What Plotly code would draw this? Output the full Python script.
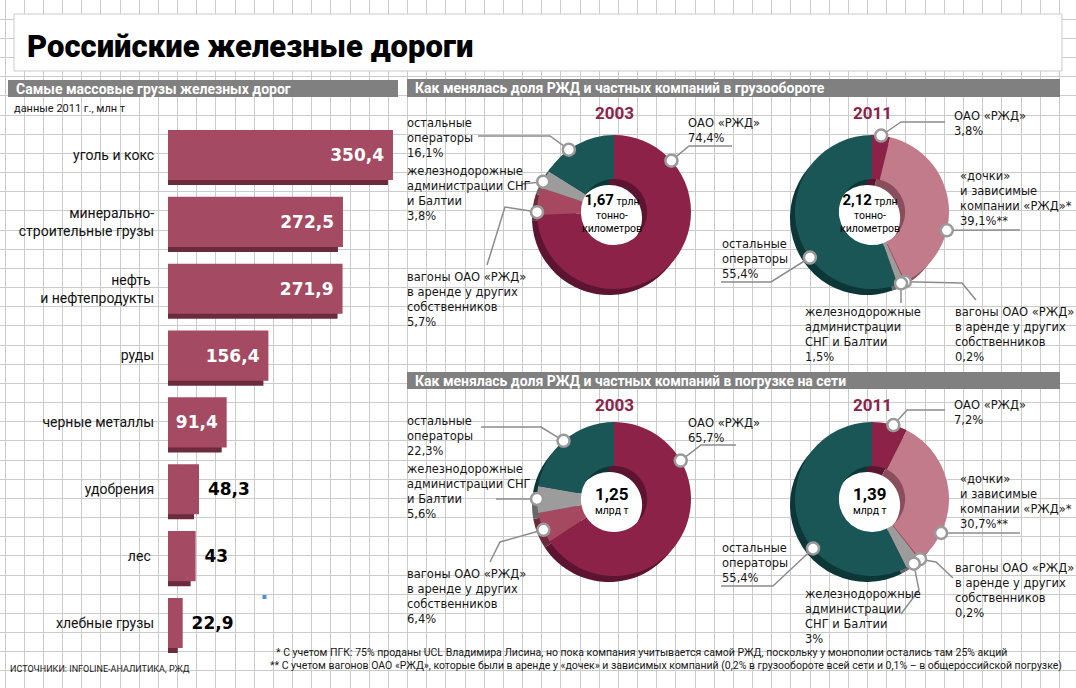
#! /usr/bin/env python3

import math
import plotly.graph_objects as go

W, H = 1076, 688

# самые массовые грузы, млн т (2011)
cargo = ["уголь и кокс", "минерально-<br>строительные грузы", "нефть\u00a0<br>и нефтепродукты",
         "руды", "черные металлы", "удобрения", "лес\u00a0", "хлебные грузы"]
cargo_mt = [350.4, 272.5, 271.9, 156.4, 91.4, 48.3, 43, 22.9]
cargo_inside = [True, True, True, True, True, False, False, False]

# доли в грузообороте и погрузке, %
freight_2003_keys = ["rzd", "wagons", "cis", "other"]
freight_2003 = [74.4, 5.7, 3.8, 16.1]
freight_2011_keys = ["rzd", "daughters", "wagons", "cis", "other"]
freight_2011 = [3.8, 39.1, 0.2, 1.5, 55.4]
loading_2003_keys = ["rzd", "wagons", "cis", "other"]
loading_2003 = [65.7, 6.4, 5.6, 22.3]
loading_2011_keys = ["rzd", "daughters", "wagons", "cis", "other"]
loading_2011 = [7.2, 30.7, 0.2, 3.0, 55.4]

names = {"rzd": "ОАО «РЖД»", "daughters": "«дочки» и зависимые компании «РЖД»",
         "wagons": "вагоны ОАО «РЖД» в аренде у других собственников",
         "cis": "железнодорожные администрации СНГ и Балтии", "other": "остальные операторы"}
colors = {"rzd": "#8c2248", "daughters": "#c17b8b", "wagons": "#a6485f", "cis": "#9c9c9c", "other": "#1b5656"}
shade = {"rzd": "#5c1430", "daughters": "#8a4d5c", "wagons": "#6c2a3b", "cis": "#686868", "other": "#0d3737"}

grid_color = "#cbcbcb"
bar_face = "#a44a62"
bar_side = "#6c2a3d"
lead_color = "#8c8c8c"
TXT = "Roboto, Arial, sans-serif"
LBL = "DejaVu Sans, Roboto, sans-serif"


def fmt(v):
    return f"{v:g}".replace(".", ",")


fig = go.Figure()

# пустой след, чтобы держать пиксельные оси сетки
fig.add_trace(go.Scatter(x=[None], y=[None], xaxis="x", yaxis="y", showlegend=False, hoverinfo="skip"))

# --- столбики ---
k = 0.642          # px на 1 млн т
bx0 = 168
xmax = 380
pitch = 66.86
btop = 155 - pitch / 2
pos = list(range(len(cargo)))
bw = 0.75
sx = 5 / k
sy = 5 / pitch

fig.add_trace(go.Bar(
    y=pos, x=cargo_mt, base=-sx, orientation="h", width=bw, offset=-bw / 2 + sy,
    marker=dict(color=bar_side, line=dict(width=0)), xaxis="x2", yaxis="y2",
    cliponaxis=False, hoverinfo="skip", showlegend=False,
))
fig.add_trace(go.Bar(
    y=pos, x=cargo_mt, orientation="h", width=bw, offset=-bw / 2,
    marker=dict(color=bar_face, line=dict(width=0)), xaxis="x2", yaxis="y2",
    text=[fmt(v) + "\u00a0" if ins else "\u00a0" + fmt(v) for v, ins in zip(cargo_mt, cargo_inside)],
    textposition=["inside" if ins else "outside" for ins in cargo_inside],
    insidetextanchor="end", constraintext="none", textangle=0,
    textfont=dict(family="DejaVu Sans", size=17, weight="bold"),
    insidetextfont=dict(color="white"), outsidetextfont=dict(color="black"),
    cliponaxis=False, showlegend=False, hovertemplate="%{x} млн т<extra></extra>",
))

# --- кольцевые диаграммы ---
R = 77
HOLE = 0.43
donuts = [
    dict(year="2003", cx=614, cy=212, ty=113, keys=freight_2003_keys, vals=freight_2003,
         center="<span style='font-size:15px'><b>1,67</b></span> трлн<br>тонно-<br>километров",
         labels=[
             dict(key="rzd", lines=["ОАО «РЖД»"], tx=686, ty=121, frac=0.18, path=[(689, 146), (732, 146)]),
             dict(key="wagons", lines=["вагоны ОАО «РЖД»", "в аренде у других", "собственников"],
                  tx=405, ty=275, frac=0.1, path=[(505, 207), (487, 265)]),
             dict(key="cis", lines=["железнодорожные", "администрации СНГ", "и Балтии"],
                  tx=405, ty=169, frac=0.35, path=[(522, 184)]),
             dict(key="other", lines=["остальные", "операторы"], tx=405, ty=121, frac=0.38,
                  path=[(550, 136), (478, 136)]),
         ]),
    dict(year="2011", cx=872, cy=212, ty=113, keys=freight_2011_keys, vals=freight_2011,
         center="<span style='font-size:15px'><b>2,12</b></span> трлн<br>тонно-<br>километров",
         labels=[
             dict(key="rzd", lines=["ОАО «РЖД»"], tx=952, ty=114, frac=0.5, path=[(901, 122), (945, 122)]),
             dict(key="daughters", lines=["«дочки»", "и зависимые", "компании «РЖД»*"], suffix="**",
                  tx=958, ty=174, frac=0.64, path=[(1020, 230)]),
             dict(key="wagons", lines=["вагоны ОАО «РЖД»", "в аренде у других", "собственников"],
                  tx=953, ty=310, frac=0.5, path=[(962, 283), (976, 300)]),
             dict(key="cis", lines=["железнодорожные", "администрации", "СНГ и Балтии"],
                  tx=803, ty=310, frac=0.5, path=[(901, 303)]),
             dict(key="other", lines=["остальные", "операторы"], tx=720, ty=242, frac=0.367,
                  path=[(771, 282), (721, 282)]),
         ]),
    dict(year="2003", cx=614, cy=499, ty=405, keys=loading_2003_keys, vals=loading_2003,
         center="<span style='font-size:17px'><b>1,25</b></span><br>млрд т",
         labels=[
             dict(key="rzd", lines=["ОАО «РЖД»"], tx=686, ty=421, frac=0.254, path=[(701, 445), (736, 445)]),
             dict(key="wagons", lines=["вагоны ОАО «РЖД»", "в аренде у других", "собственников"],
                  tx=405, ty=572, frac=0.43, path=[(500, 542), (490, 562)]),
             dict(key="cis", lines=["железнодорожные", "администрации СНГ", "и Балтии"],
                  tx=405, ty=467, frac=0.52, path=[(496, 499)]),
             dict(key="other", lines=["остальные", "операторы"], tx=405, ty=419, frac=0.49,
                  path=[(541, 427), (481, 427)]),
         ]),
    dict(year="2011", cx=872, cy=499, ty=405, keys=loading_2011_keys, vals=loading_2011,
         center="<span style='font-size:17px'><b>1,39</b></span><br>млрд т",
         labels=[
             dict(key="rzd", lines=["ОАО «РЖД»"], tx=952, ty=403, frac=0.6, path=[(907, 410), (945, 410)]),
             dict(key="daughters", lines=["«дочки»", "и зависимые", "компании «РЖД»*"], suffix="**",
                  tx=958, ty=477, frac=0.78, path=[(1020, 533)]),
             dict(key="wagons", lines=["вагоны ОАО «РЖД»", "в аренде у других", "собственников"],
                  tx=953, ty=566, frac=0.0, path=[(936, 562), (953, 578)]),
             dict(key="cis", lines=["железнодорожные", "администрации", "СНГ и Балтии"],
                  tx=803, ty=592, frac=0.45, path=[(919, 590), (901, 614)]),
             dict(key="other", lines=["остальные", "операторы"], tx=720, ty=546, frac=0.371,
                  path=[(773, 586), (721, 586)]),
         ]),
]

shapes = []
annotations = []
lead_shapes = []
dot_shapes = []


def text(x, y, s, size=12, color="#161616", anchor="left", family=TXT, weight="normal", yanchor="middle"):
    annotations.append(dict(x=x, y=y, xref="x", yref="y", text=s, showarrow=False, xanchor=anchor,
                            yanchor=yanchor, align=anchor if anchor != "middle" else "center",
                            font=dict(family=family, size=size, color=color, weight=weight)))


for d in donuts:
    keys, vals = d["keys"], d["vals"]
    for dx, dy, cmap in [(-5, 6, shade), (0, 0, colors)]:
        cx, cy = d["cx"] + dx, d["cy"] + dy
        fig.add_trace(go.Pie(
            values=vals, labels=[names[key] for key in keys],
            marker=dict(colors=[cmap[key] for key in keys], line=dict(width=0)),
            hole=HOLE, sort=False, direction="clockwise", rotation=0, textinfo="none",
            hoverinfo="label+percent" if dx == 0 else "skip", showlegend=False,
            domain=dict(x=[(cx - R) / W, (cx + R) / W], y=[1 - (cy + R) / H, 1 - (cy - R) / H]),
        ))
    cx, cy = d["cx"], d["cy"]
    r0 = R * HOLE
    shapes.append(dict(type="circle", xref="x", yref="y", x0=cx - r0, x1=cx + r0, y0=cy - r0, y1=cy + r0,
                       fillcolor="white", line=dict(width=0), layer="between"))
    text(cx, d["ty"], "<b>" + d["year"] + "</b>", size=17, color=colors["rzd"], anchor="center")
    text(cx - 2, cy + 1, d["center"], size=10.5, color="black", anchor="center")

    total = sum(vals)
    for lab in d["labels"]:
        i = keys.index(lab["key"])
        ang = math.radians(360 * (sum(vals[:i]) + lab["frac"] * vals[i]) / total)
        mx, my = cx + R * math.sin(ang), cy - R * math.cos(ang)
        pts = [(mx, my)] + lab["path"]
        lead_shapes.append(dict(type="path", xref="x", yref="y", layer="above",
                                path="M " + " L ".join(f"{px:.1f},{py:.1f}" for px, py in pts),
                                line=dict(color=lead_color, width=1.5)))
        dot_shapes.append(dict(type="circle", xref="x", yref="y", layer="above", x0=mx - 6, x1=mx + 6,
                               y0=my - 6, y1=my + 6, fillcolor="white", line=dict(color="#9a9a9a", width=2.5)))
        lines = lab["lines"] + [fmt(vals[i]) + "%" + lab.get("suffix", "")]
        text(lab["tx"], lab["ty"] - 7.5, "<br>".join(lines), size=11.5, family=LBL, yanchor="top")

# --- оформление: заголовок, плашки разделов ---
shapes.insert(0, dict(type="rect", xref="x", yref="y", x0=14, x1=1062, y0=14, y1=71, fillcolor="white",
                      line=dict(color=grid_color, width=1), layer="between"))
for x0, x1, y0, y1 in [(8, 398, 80, 97), (407, 1060, 79, 97), (407, 1060, 372, 389)]:
    shapes.append(dict(type="rect", xref="x", yref="y", x0=x0, x1=x1, y0=y0, y1=y1, fillcolor="#808080",
                       line=dict(width=0), layer="between"))
shapes.append(dict(type="rect", xref="x", yref="y", x0=262.5, x1=266.5, y0=595, y1=599,
                   fillcolor="#4d8fe0", line=dict(width=0), layer="above"))

text(25, 46, "Российские железные дороги", size=31, color="black", weight=900)
text(14, 89, "Самые массовые грузы железных дорог", size=14, color="white", weight="bold")
text(413, 88, "Как менялась доля РЖД и частных компаний в грузообороте", size=14, color="white", weight="bold")
text(413, 381, "Как менялась доля РЖД и частных компаний в погрузке на сети", size=14, color="white", weight="bold")
text(12, 108, "данные 2011 г., млн т", size=11)
text(274, 652, "* С учетом ПГК: 75% проданы UCL Владимира Лисина, но пока компания учитывается самой РЖД, "
               "поскольку у монополии остались там 25% акций", size=10.5)
text(268, 665, "** С учетом вагонов ОАО «РЖД», которые были в аренде у «дочек» и зависимых компаний "
               "(0,2% в грузообороте всей сети и 0,1% – в общероссийской погрузке)", size=10.5)
text(8, 669, "ИСТОЧНИКИ: INFOLINE-АНАЛИТИКА, РЖД", size=9)

fig.update_layout(
    template="none",
    width=W, height=H,
    margin=dict(l=0, r=0, t=0, b=0),
    paper_bgcolor="white",
    plot_bgcolor="rgba(0,0,0,0)",
    barmode="overlay",
    showlegend=False,
    xaxis=dict(domain=[0, 1], range=[0, W], showgrid=True, gridcolor=grid_color, gridwidth=1,
               tick0=5, dtick=19.17, showticklabels=False, zeroline=False, showline=False, ticks="",
               fixedrange=True),
    yaxis=dict(domain=[0, 1], range=[H, 0], showgrid=True, gridcolor=grid_color, gridwidth=1,
               tick0=0, dtick=19.17, showticklabels=False, zeroline=False, showline=False, ticks="",
               fixedrange=True),
    xaxis2=dict(domain=[bx0 / W, (bx0 + k * xmax) / W], range=[0, xmax], anchor="y2", visible=False,
                fixedrange=True),
    yaxis2=dict(domain=[1 - (btop + len(cargo) * pitch) / H, 1 - btop / H], range=[len(cargo) - 0.5, -0.5],
                anchor="x2", tickvals=pos, ticktext=cargo, showgrid=False, zeroline=False, showline=False,
                ticks="outside", ticklen=10, tickcolor="rgba(0,0,0,0)",
                tickfont=dict(family=TXT, size=14, color="#111111"), fixedrange=True),
    shapes=shapes + lead_shapes + dot_shapes,
    annotations=annotations,
)

fig.write_html("out.html", config={"displayModeBar": False},
               post_script="document.body.style.margin='0';document.body.style.overflow='hidden';")
